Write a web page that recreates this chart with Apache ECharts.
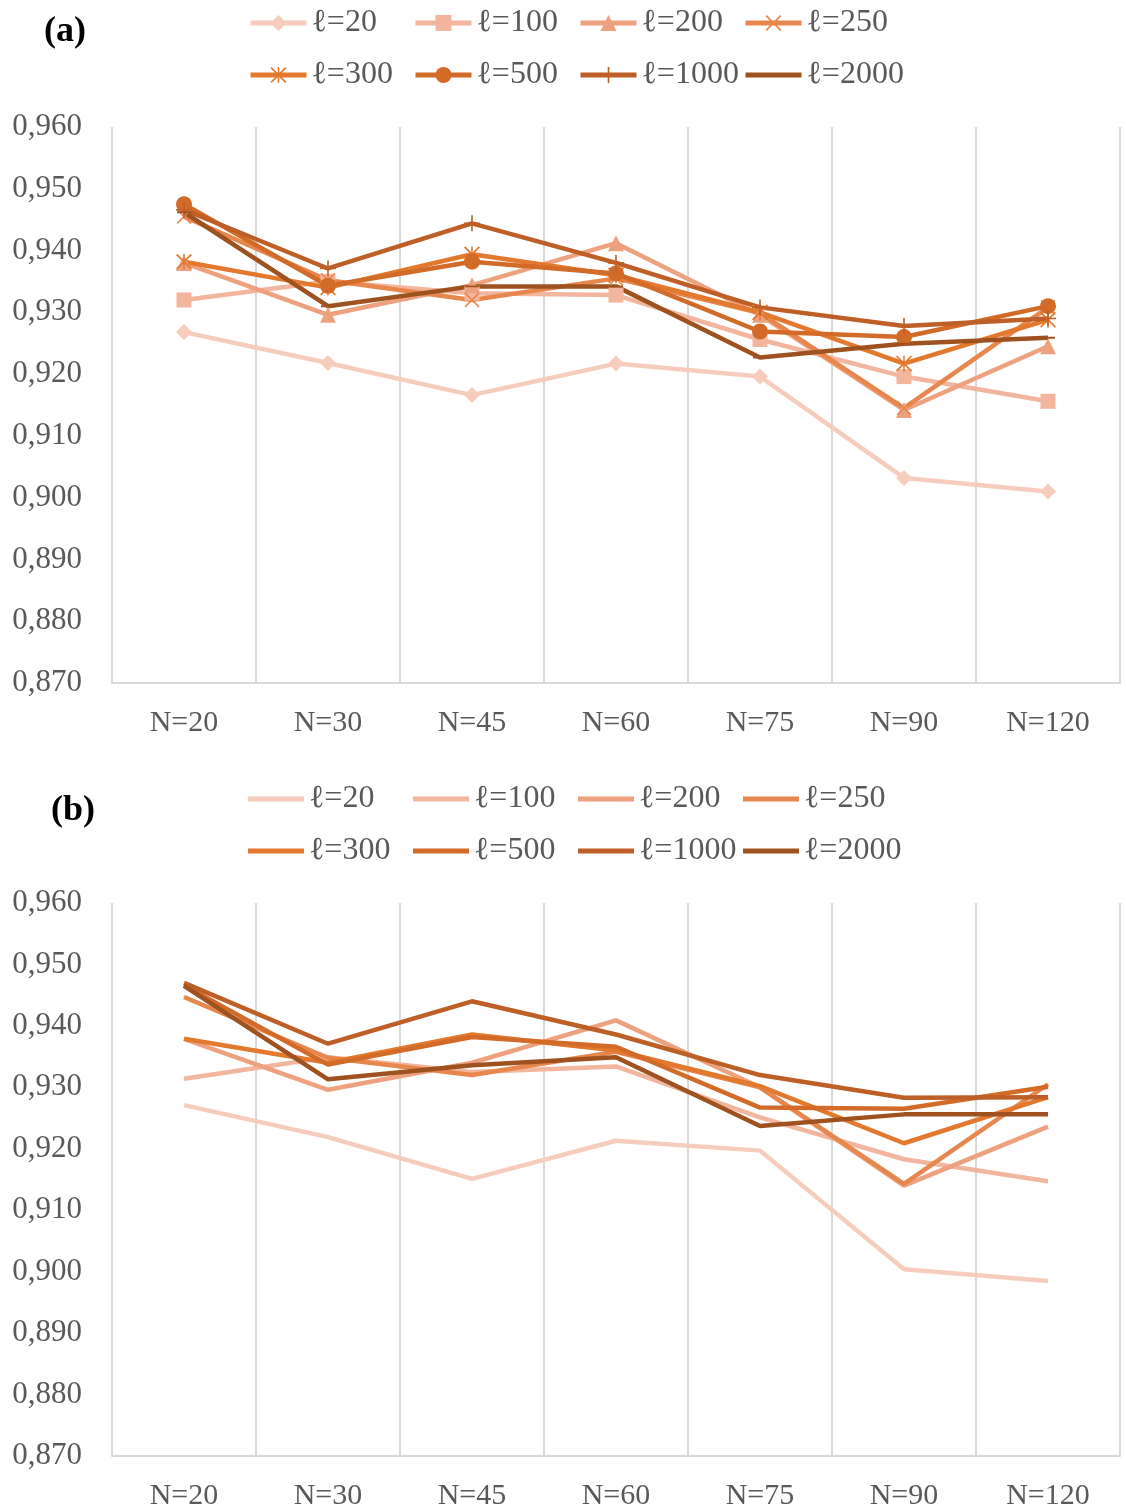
<!DOCTYPE html>
<html>
<head>
<meta charset="utf-8">
<script src="https://cdn.jsdelivr.net/npm/echarts@6/dist/echarts.min.js"></script>
<style>
html,body{margin:0;padding:0;background:#fff;}
#chart{width:1126px;height:1511px;}
</style>
</head>
<body>
<div id="chart"></div>
<script>
// ---------- data ----------
const categories = ['N=20', 'N=30', 'N=45', 'N=60', 'N=75', 'N=90', 'N=120'];
const seriesNames = ['ℓ=20', 'ℓ=100', 'ℓ=200', 'ℓ=250', 'ℓ=300', 'ℓ=500', 'ℓ=1000', 'ℓ=2000'];
const yTicks = { min: 0.87, max: 0.96, step: 0.01 };

// panel (a)
const a_l20   = [0.9268, 0.9218, 0.9166, 0.9217, 0.9196, 0.9032, 0.9010];
const a_l100  = [0.9320, 0.9350, 0.9331, 0.9328, 0.9256, 0.9196, 0.9156];
const a_l200  = [0.9380, 0.9296, 0.9344, 0.9412, 0.9296, 0.9142, 0.9245];
const a_l250  = [0.9455, 0.9352, 0.9320, 0.9355, 0.9299, 0.9145, 0.9308];
const a_l300  = [0.9382, 0.9340, 0.9394, 0.9360, 0.9300, 0.9217, 0.9288];
const a_l500  = [0.9475, 0.9343, 0.9382, 0.9363, 0.9269, 0.9260, 0.9310];
const a_l1000 = [0.9466, 0.9371, 0.9444, 0.9380, 0.9308, 0.9278, 0.9290];
const a_l2000 = [0.9462, 0.9310, 0.9342, 0.9342, 0.9227, 0.9249, 0.9259];

// panel (b)
const b_l20   = [0.9271, 0.9219, 0.9151, 0.9213, 0.9197, 0.9004, 0.8985];
const b_l100  = [0.9314, 0.9349, 0.9325, 0.9334, 0.9251, 0.9183, 0.9147];
const b_l200  = [0.9379, 0.9296, 0.9340, 0.9409, 0.9300, 0.9140, 0.9236];
const b_l250  = [0.9447, 0.9348, 0.9320, 0.9358, 0.9300, 0.9143, 0.9305];
const b_l300  = [0.9379, 0.9340, 0.9386, 0.9360, 0.9302, 0.9209, 0.9284];
const b_l500  = [0.9466, 0.9337, 0.9382, 0.9366, 0.9267, 0.9265, 0.9301];
const b_l1000 = [0.9470, 0.9371, 0.9440, 0.9386, 0.9320, 0.9283, 0.9284];
const b_l2000 = [0.9465, 0.9313, 0.9336, 0.9349, 0.9237, 0.9256, 0.9256];

const panelA = [a_l20, a_l100, a_l200, a_l250, a_l300, a_l500, a_l1000, a_l2000];
const panelB = [b_l20, b_l100, b_l200, b_l250, b_l300, b_l500, b_l1000, b_l2000];

// ---------- styles ----------
const colors = ['#f6cdbd', '#f2b59e', '#eda17f', '#e8874d', '#e3782f', '#d26a28', '#bd5f27', '#9e521f'];
const X_PATH = 'path://M0,1.5 L1.5,0 L10,8.5 L18.5,0 L20,1.5 L11.5,10 L20,18.5 L18.5,20 L10,11.5 L1.5,20 L0,18.5 L8.5,10 Z';
const STAR_PATH = X_PATH + ' M9.1,0 L10.9,0 L10.9,20 L9.1,20 Z';
const PLUS_PATH = 'path://M9,0 H11 V9 H20 V11 H11 V20 H9 V11 H0 V9 H9 Z';
const DASH_PATH = 'path://M0,0 L0.01,0 L0,0.01 Z M0,8.6 H20 V11.4 H0 Z M20,20 L19.99,20 L20,19.99 Z';
const LINE_ICON = 'path://M0,0 L0.01,0 L0,0.01 Z M0,7.5 H56 V12.5 H0 Z M56,20 L55.99,20 L56,19.99 Z';
const symbols = ['diamond', 'rect', 'triangle', X_PATH, STAR_PATH, 'circle', PLUS_PATH, DASH_PATH];
const symbolSizes = [16, 15, 16, 15, 16, 16, 16, 14];

const FONT = '"Liberation Serif", "Times New Roman", serif';
const GRID_COLOR = '#d9d9d9';
const LABEL_COLOR = '#595959';

const grids = [
  { left: 112, top: 127, width: 1008, height: 556 },
  { left: 112, top: 903, width: 1008, height: 555 }
];

function xAxis(i) {
  return {
    type: 'category', gridIndex: i, data: categories, boundaryGap: true,
    axisLine: { show: true, lineStyle: { color: GRID_COLOR, width: 2 } },
    axisTick: { show: false },
    splitLine: { show: true, showMinLine: true, showMaxLine: true, lineStyle: { color: GRID_COLOR, width: 2 } },
    axisLabel: { interval: 0, fontFamily: FONT, fontSize: 30, color: LABEL_COLOR, margin: 25 }
  };
}
function yAxis(i) {
  return {
    type: 'value', gridIndex: i, min: yTicks.min, max: yTicks.max, interval: yTicks.step,
    axisLine: { show: false }, axisTick: { show: false }, splitLine: { show: false },
    axisLabel: {
      fontFamily: FONT, fontSize: 31, color: LABEL_COLOR, margin: 30,
      formatter: v => v.toFixed(3).replace('.', ',')
    }
  };
}

const series = [];
seriesNames.forEach((n, k) => {
  series.push({
    name: n, type: 'line', xAxisIndex: 0, yAxisIndex: 0, data: panelA[k],
    symbol: symbols[k], symbolSize: symbolSizes[k], showSymbol: true,
    lineStyle: { color: colors[k], width: 4.5 },
    itemStyle: { color: colors[k], borderWidth: 0 },
    emphasis: { disabled: true }, animation: false
  });
});
seriesNames.forEach((n, k) => {
  series.push({
    name: 'b ' + n, type: 'line', xAxisIndex: 1, yAxisIndex: 1, data: panelB[k],
    symbol: 'none',
    lineStyle: { color: colors[k], width: 4.5 },
    itemStyle: { color: colors[k] },
    emphasis: { disabled: true }, animation: false
  });
});

// legends: 4 per row, 2 rows, per panel
const legendCols = [250, 415, 580, 745];
const legendRowsA = [23, 75];
const legendRowsB = [799, 851];
const legends = [];
function addLegends(prefix, rows, lineOnly) {
  seriesNames.forEach((n, k) => {
    const col = k % 4, row = Math.floor(k / 4);
    const lg = {
      data: [prefix + n], left: legendCols[col] - 2, top: rows[row] - 16,
      padding: 0, itemWidth: 56, itemHeight: 20, selectedMode: false,
      lineStyle: { width: 5 },
      formatter: name => name.replace(/^b /, ''),
      textStyle: { fontFamily: FONT, fontSize: 32, color: LABEL_COLOR, lineHeight: 32 }
    };
    if (lineOnly) lg.icon = LINE_ICON;
    legends.push(lg);
  });
}
addLegends('', legendRowsA, false);
addLegends('b ', legendRowsB, true);

const option = {
  backgroundColor: '#fff',
  animation: false,
  title: [
    { text: '(a)', left: 44, top: 14, padding: 0, textStyle: { fontFamily: FONT, fontWeight: 'bold', fontSize: 36, color: '#000' } },
    { text: '(b)', left: 51, top: 793, padding: 0, textStyle: { fontFamily: FONT, fontWeight: 'bold', fontSize: 36, color: '#000' } }
  ],
  legend: legends,
  grid: grids,
  xAxis: [xAxis(0), xAxis(1)],
  yAxis: [yAxis(0), yAxis(1)],
  series: series
};

const chart = echarts.init(document.getElementById('chart'), null, { renderer: 'canvas' });
chart.setOption(option);
</script>
</body>
</html>
